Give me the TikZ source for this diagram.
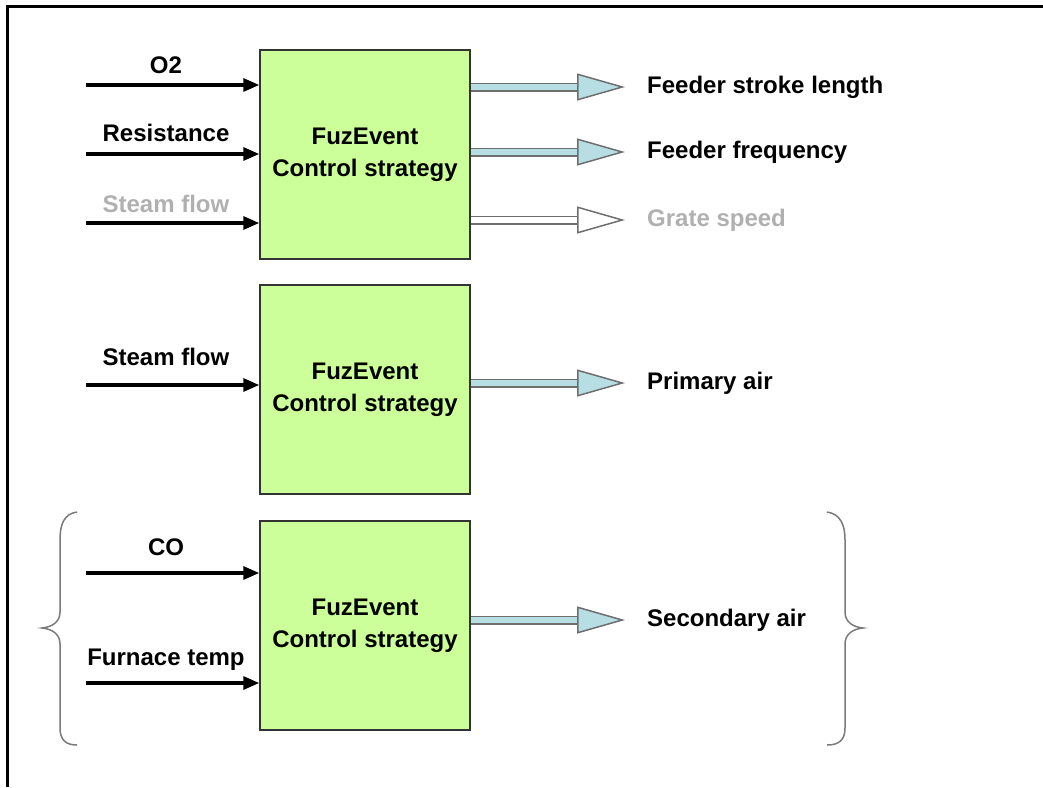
\documentclass[tikz,border=0pt]{standalone}
\usepackage{fontspec}
\setmainfont{Liberation Sans}
\usetikzlibrary{arrows.meta, positioning, calc}
\definecolor{BoxGreen}{HTML}{CCFF99}
\definecolor{BoxLine}{HTML}{333333}
\definecolor{PaleBlue}{HTML}{B7DEE3}
\definecolor{ArrowGray}{HTML}{6E6E6E}
\definecolor{FadeGray}{HTML}{B0B0B0}
\definecolor{BraceGray}{HTML}{7A7A7A}
\tikzset{
  fuzbox/.style={draw=BoxLine, line width=1.5pt, fill=BoxGreen, minimum width=210pt, minimum height=209pt, align=center, inner sep=0pt, font=\fontsize{24}{32}\selectfont\bfseries},
  inlabel/.style={anchor=base, inner sep=0pt, font=\fontsize{24}{28}\selectfont\bfseries},
  outlabel/.style={anchor=west, inner sep=0pt, font=\fontsize{24}{28}\selectfont\bfseries},
  inarrow/.style={-{Triangle[length=16pt, width=13pt]}, line width=3.2pt},
  outarrow/.style={-{Triangle[length=48pt, width=27pt, fill=PaleBlue]}, draw=ArrowGray, line width=1.5pt, double=PaleBlue, double distance=6pt},
  fadearrow/.style={-{Triangle[length=48pt, width=27pt, fill=white]}, draw=ArrowGray, line width=1.5pt, double=white, double distance=6pt},
  brace/.style={draw=BraceGray, line width=1.5pt}
}

\begin{document}
\begin{tikzpicture}[x=1pt, y=-1pt]
\useasboundingbox (0,0) rectangle (1043,787);
\draw[line width=3pt] (1043,6) -| (7,787);

\node[fuzbox] (fz1) at (365,154.5) {FuzEvent\\Control strategy};
\node[fuzbox] (fz2) at (365,389.5) {FuzEvent\\Control strategy};
\node[fuzbox] (fz3) at (365,625.5) {FuzEvent\\Control strategy};

% inputs
\coordinate (o2) at (86,85);
\coordinate (res) at (86,154);
\coordinate (steam1) at (86,223);
\coordinate (steam2) at (86,385);
\coordinate (co) at (86,573);
\coordinate (furn) at (86,683);

\node[inlabel] (o2lbl) at (166,73.5) {O2};
\node[inlabel] (reslbl) at (166,141.5) {Resistance};
\node[inlabel, text=FadeGray] (steam1lbl) at (166,212) {Steam flow};
\node[inlabel] (steam2lbl) at (166,365.5) {Steam flow};
\node[inlabel] (colbl) at (166,555.5) {CO};
\node[inlabel] (furnlbl) at (166,665.5) {Furnace temp};

\draw[inarrow] (o2) -- (o2 -| fz1.west);
\draw[inarrow] (res) -- (res -| fz1.west);
\draw[inarrow] (steam1) -- (steam1 -| fz1.west);
\draw[inarrow] (steam2) -- (steam2 -| fz2.west);
\draw[inarrow] (co) -- (co -| fz3.west);
\draw[inarrow] (furn) -- (furn -| fz3.west);

% outputs
\node[outlabel] (stroke) at (647,87) {Feeder stroke length};
\node[outlabel] (freq) at (647,152) {Feeder frequency};
\node[outlabel, text=FadeGray] (grate) at (647,220) {Grate speed};
\node[outlabel] (prim) at (647,383) {Primary air};
\node[outlabel] (sec) at (647,620) {Secondary air};

\draw[outarrow] (stroke.west -| fz1.east) -- ([xshift=-22pt]stroke.west);
\draw[outarrow] (freq.west -| fz1.east) -- ([xshift=-22pt]freq.west);
\draw[fadearrow] (grate.west -| fz1.east) -- ([xshift=-22pt]grate.west);
\draw[outarrow] (prim.west -| fz2.east) -- ([xshift=-22pt]prim.west);
\draw[outarrow] (sec.west -| fz3.east) -- ([xshift=-22pt]sec.west);

% braces
\draw[brace] (77,512) .. controls (64,514) and (60,524) .. (60,540) -- (60,612)
  .. controls (60,622) and (52,627) .. (42,628) .. controls (52,629) and (60,634) .. (60,644)
  -- (60,728) .. controls (60,740) and (66,745) .. (77,745);
\draw[brace] (827,512) .. controls (840,514) and (845,524) .. (845,540) -- (845,612)
  .. controls (845,622) and (853,627) .. (863,628) .. controls (853,629) and (845,634) .. (845,644)
  -- (845,728) .. controls (845,740) and (839,745) .. (827,745);
\end{tikzpicture}
\end{document}
